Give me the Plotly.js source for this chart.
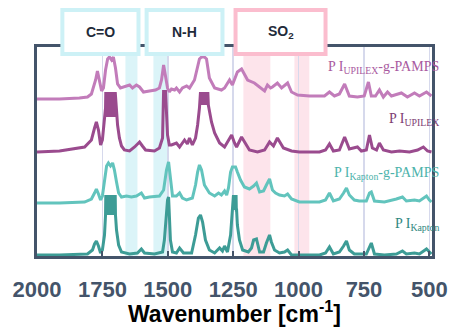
<!DOCTYPE html>
<html><head><meta charset="utf-8">
<script src="https://cdn.plot.ly/plotly-3.0.1.min.js"></script>
<style>html,body{margin:0;padding:0;background:#fff}#chart{width:455px;height:329px}</style>
</head><body><div id="chart"></div>
<script>
// Wavenumber (cm-1) and stacked intensity (a.u., offset)
const upgWn = [2000,1914,1838,1807,1792,1776,1769,1761,1753,1746,1738,1730,1723,1715,1708,1700,1692,1681,1666,1646,1635,1620,1608,1593,1570,1547,1532,1524,1516,1509,1501,1494,1486,1474,1467,1455,1444,1428,1417,1398,1386,1379,1371,1360,1352,1341,1321,1295,1283,1264,1253,1234,1218,1207,1195,1169,1142,1130,1119,1107,1100,1081,1065,1042,1027,1004,958,901,882,863,844,824,806,775,749,733,722,706,691,676,660,645,607,584,557,538,511,492];
const upgI  = [1.57,1.57,1.58,1.59,1.62,1.76,1.85,1.76,1.65,1.68,1.86,1.97,1.99,1.96,1.99,1.88,1.72,1.68,1.69,1.71,1.68,1.71,1.69,1.64,1.65,1.66,1.68,1.76,1.91,1.81,1.68,1.64,1.67,1.66,1.68,1.64,1.68,1.70,1.68,1.76,1.88,1.97,1.99,1.99,1.97,1.78,1.68,1.66,1.68,1.76,1.71,1.84,1.87,1.82,1.76,1.73,1.68,1.65,1.71,1.68,1.69,1.73,1.68,1.73,1.64,1.61,1.60,1.60,1.64,1.60,1.62,1.72,1.60,1.59,1.60,1.74,1.60,1.60,1.66,1.59,1.64,1.60,1.63,1.59,1.63,1.60,1.64,1.60];

const upWn = [2000,1914,1818,1792,1780,1773,1765,1757,1750,1742,1738,1737,1735,1733,1731,1729,1727,1725,1723,1721,1719,1717,1715,1713,1711,1709,1707,1705,1703,1701,1696,1692,1685,1677,1666,1646,1627,1608,1597,1585,1551,1532,1520,1517,1516,1515,1513,1511,1509,1505,1501,1494,1486,1467,1455,1436,1425,1417,1406,1394,1386,1379,1375,1373,1371,1369,1367,1365,1363,1361,1359,1357,1355,1353,1351,1349,1347,1345,1341,1333,1321,1302,1283,1268,1256,1245,1237,1218,1203,1188,1157,1130,1111,1096,1081,1058,1027,997,920,897,882,867,844,824,806,775,760,741,729,718,702,691,676,645,614,576,545,523,507,492];
const upI  = [1.04,1.05,1.09,1.16,1.28,1.34,1.26,1.11,1.16,1.36,1.48,1.64,1.39,1.64,1.39,1.64,1.39,1.64,1.39,1.64,1.39,1.64,1.39,1.64,1.39,1.64,1.39,1.64,1.39,1.64,1.46,1.31,1.18,1.10,1.06,1.05,1.09,1.14,1.10,1.06,1.05,1.08,1.18,1.46,1.66,1.56,1.66,1.56,1.66,1.41,1.21,1.11,1.11,1.13,1.09,1.16,1.12,1.18,1.11,1.18,1.31,1.48,1.64,1.51,1.64,1.51,1.64,1.51,1.64,1.51,1.64,1.51,1.64,1.51,1.64,1.51,1.64,1.51,1.46,1.34,1.23,1.13,1.09,1.16,1.21,1.13,1.09,1.19,1.12,1.06,1.04,1.06,1.14,1.10,1.18,1.08,1.05,1.04,1.04,1.06,1.12,1.05,1.06,1.19,1.07,1.09,1.05,1.06,1.21,1.08,1.06,1.13,1.06,1.04,1.05,1.04,1.06,1.09,1.05,1.04];

const kpgWn = [2000,1914,1818,1792,1780,1773,1765,1757,1750,1742,1734,1727,1719,1711,1704,1696,1688,1677,1658,1639,1620,1601,1589,1570,1532,1516,1505,1497,1490,1482,1467,1455,1444,1428,1406,1394,1386,1379,1371,1360,1341,1321,1306,1295,1283,1275,1268,1260,1253,1241,1234,1222,1207,1188,1172,1161,1149,1134,1123,1111,1100,1088,1073,1054,1042,1027,997,920,897,882,867,844,828,817,806,787,768,741,729,722,710,672,626,603,588,557,538,511,500,492];
const kpgI  = [0.53,0.53,0.54,0.57,0.63,0.67,0.62,0.56,0.60,0.76,0.90,0.93,0.90,0.93,0.86,0.74,0.63,0.59,0.60,0.59,0.60,0.63,0.58,0.59,0.60,0.66,0.86,0.94,0.78,0.60,0.60,0.63,0.58,0.56,0.58,0.71,0.84,0.91,0.86,0.71,0.63,0.60,0.63,0.61,0.65,0.61,0.68,0.84,0.89,0.89,0.84,0.76,0.69,0.67,0.70,0.73,0.64,0.65,0.71,0.77,0.66,0.63,0.61,0.60,0.62,0.57,0.54,0.54,0.56,0.63,0.55,0.57,0.63,0.68,0.61,0.56,0.55,0.55,0.63,0.64,0.55,0.54,0.57,0.59,0.55,0.56,0.55,0.60,0.56,0.54];

const kpWn = [2000,1914,1807,1788,1780,1773,1765,1757,1750,1742,1738,1737,1735,1733,1731,1729,1727,1725,1723,1721,1719,1717,1715,1713,1711,1709,1707,1705,1703,1701,1700,1696,1688,1677,1646,1616,1601,1589,1551,1520,1513,1505,1501,1497,1494,1490,1482,1467,1455,1440,1409,1394,1383,1375,1367,1356,1341,1321,1302,1291,1283,1272,1260,1253,1249,1248,1247,1246,1245,1244,1243,1242,1241,1240,1239,1238,1237,1234,1226,1214,1192,1180,1172,1161,1149,1134,1123,1111,1104,1092,1073,1054,1042,1027,997,920,897,882,867,844,828,817,806,787,741,729,722,710,672,626,603,588,557,538,511,492];
const kpI  = [0.01,0.01,0.02,0.06,0.12,0.15,0.10,0.03,0.06,0.21,0.41,0.61,0.41,0.61,0.41,0.61,0.41,0.61,0.41,0.61,0.41,0.61,0.41,0.61,0.41,0.61,0.41,0.61,0.41,0.61,0.41,0.26,0.11,0.04,0.02,0.03,0.07,0.03,0.02,0.04,0.16,0.41,0.56,0.59,0.41,0.16,0.04,0.03,0.08,0.03,0.03,0.21,0.38,0.41,0.34,0.16,0.06,0.03,0.08,0.05,0.10,0.04,0.21,0.46,0.61,0.46,0.61,0.46,0.61,0.46,0.61,0.46,0.61,0.46,0.61,0.46,0.46,0.31,0.16,0.06,0.04,0.08,0.16,0.17,0.04,0.04,0.13,0.21,0.14,0.06,0.03,0.04,0.06,0.01,0.01,0.01,0.03,0.09,0.02,0.04,0.10,0.15,0.06,0.02,0.02,0.10,0.13,0.02,0.01,0.02,0.05,0.02,0.03,0.02,0.07,0.02];

const tickVals = [2000,1750,1500,1250,1000,750,500];
const tickText = ['2000','1750','1500','1250','1000','750','500'];
const bandsCyan = [[1662,1616],[1555,1497]];
const bandsPink = [[1211,1108],[1016,959]];
const groupNames = ['C=O','N-H','SO<sub>2</sub>'];
const groupRanges = [[1903,1612],[1581,1291],[1241,897]];
const seriesLabels = ['P I<sub>UPILEX</sub>-g-PAMPS','P I<sub>UPILEX</sub>','P I<sub>Kapton</sub>-g-PAMPS','P I<sub>Kapton</sub>'];
const xTitle = 'Wavenumber [cm<sup>-1</sup>]';

const traces = [
  {x: kpWn, y: kpI, color: '#3d9c96'},
  {x: kpgWn, y: kpgI, color: '#62c4bd'},
  {x: upWn, y: upI, color: '#9a4b8e'},
  {x: upgWn, y: upgI, color: '#c27cba'}
].map(t => ({type:'scatter', mode:'lines', x:t.x, y:t.y, line:{color:t.color, width:3}, hoverinfo:'skip', showlegend:false}));

const shapes = [];
bandsCyan.forEach(b => shapes.push({type:'rect', layer:'below', xref:'x', yref:'paper', x0:b[0], x1:b[1], y0:0, y1:1, fillcolor:'#dbf4f8', line:{width:0}}));
bandsPink.forEach(b => shapes.push({type:'rect', layer:'below', xref:'x', yref:'paper', x0:b[0], x1:b[1], y0:0, y1:1, fillcolor:'#fde4eb', line:{width:0}}));
const boxColors = ['#cdf1f6','#cdf1f6','#fbbdce'];
groupRanges.forEach((r,i) => shapes.push({type:'rect', layer:'above', xref:'x', yref:'paper', x0:r[0], x1:r[1], y0:0.966, y1:1.177, fillcolor:'#ffffff', line:{color:boxColors[i], width:4}}));

const annotations = [];
groupRanges.forEach((r,i) => annotations.push({xref:'x', yref:'paper', x:(r[0]+r[1])/2, y:1.072, text:groupNames[i], showarrow:false, xanchor:'center', yanchor:'middle', font:{family:'Liberation Sans, Arial', size:14, color:'#1f2b3a', weight:'bold'}}));
const labelY = [0.904, 0.651, 0.397, 0.153];
const labelColors = ['#a95aa0','#7d3d72','#4db3ab','#2f8780'];
seriesLabels.forEach((s,i) => annotations.push({xref:'paper', yref:'paper', x:1.022, y:labelY[i], text:s, showarrow:false, xanchor:'right', yanchor:'middle', font:{family:'Liberation Serif, Times New Roman, serif', size:14, color:labelColors[i]}}));
annotations.push({xref:'paper', yref:'paper', x:0.50, y:-0.27, text:xTitle, showarrow:false, xanchor:'center', yanchor:'middle', font:{family:'Liberation Sans, Arial', size:23, color:'#000000', weight:'bold'}});

const layout = {
  width:455, height:329,
  margin:{l:37, r:23, t:47, b:73},
  paper_bgcolor:'#ffffff', plot_bgcolor:'#ffffff',
  showlegend:false,
  xaxis:{range:[2000,490], tickvals:tickVals, ticktext:tickText, showgrid:true, gridcolor:'#d6d9ec', gridwidth:1.5,
    showline:true, mirror:true, linecolor:'#44546a', linewidth:3, ticks:'inside', ticklen:5, tickwidth:2, tickcolor:'#44546a',
    tickfont:{family:'Liberation Sans, Arial', size:22, color:'#44546a', weight:'bold'}, ticklabelstandoff:12,
    zeroline:false, fixedrange:true},
  yaxis:{range:[0,2.09], showticklabels:false, showgrid:false, zeroline:false, showline:true, mirror:true, linecolor:'#44546a', linewidth:3, ticks:'', fixedrange:true},
  shapes:shapes, annotations:annotations
};
Plotly.newPlot('chart', traces, layout, {staticPlot:true, displayModeBar:false});
</script></body></html>
